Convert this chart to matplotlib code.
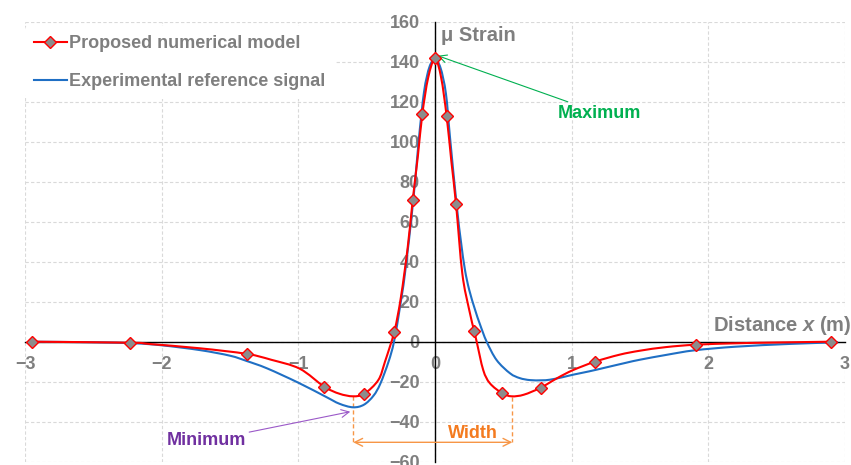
import matplotlib
matplotlib.use("Agg")
import matplotlib.pyplot as plt
from matplotlib.lines import Line2D
from matplotlib.path import Path
from matplotlib.patches import PathPatch

plt.rcParams['font.family'] = ['Liberation Sans', 'DejaVu Sans']
plt.rcParams['mathtext.fontset'] = 'custom'
plt.rcParams['mathtext.bfit'] = 'Liberation Sans:bold:italic'
plt.rcParams['mathtext.rm'] = 'Liberation Sans:bold'

# Proposed numerical model: smooth line
model_x = [-2.95, -2.23, -2.08, -1.72, -1.377, -1.2, -0.99, -0.81, -0.7, -0.6, -0.517,
           -0.415, -0.366, -0.298, -0.25, -0.2, -0.163, -0.125, -0.093, -0.05, 0.0,
           0.045, 0.085, 0.12, 0.154, 0.2, 0.25, 0.286, 0.305, 0.353, 0.402, 0.492,
           0.561, 0.65, 0.773, 0.9, 1.01, 1.17, 1.35, 1.5, 1.69, 1.907, 2.2, 2.5, 2.897]
model_y = [0, -0.5, -1.2, -3.3, -6.1, -9.0, -13.5, -22.5, -26.0, -27.3, -26.0,
           -19.2, -10.0, 5.0, 22.0, 47.0, 70.8, 93.0, 113.7, 132.0, 141.7,
           132.0, 112.8, 90.0, 68.7, 34.0, 16.0, 5.5, 0.0, -14.2, -20.8, -25.8,
           -27.3, -26.5, -23.0, -18.0, -14.2, -10.0, -6.5, -4.5, -2.7, -1.5, -0.8, -0.4, 0]

# Proposed numerical model: marked points
marker_x = [-2.95, -2.23, -1.377, -0.81, -0.517, -0.298, -0.163, -0.093, 0.0,
            0.085, 0.154, 0.286, 0.492, 0.773, 1.17, 1.907, 2.897]
marker_y = [0, -0.5, -6.1, -22.5, -26.0, 5.0, 70.8, 113.7, 141.7,
            112.8, 68.7, 5.5, -25.8, -23.0, -10.0, -1.5, 0]

# Experimental reference signal
exp_x = [-2.95, -2.5, -2.2, -2.0, -1.72, -1.5, -1.38, -1.23, -1.0, -0.8, -0.7, -0.6,
         -0.52, -0.45, -0.40, -0.34, -0.30, -0.256, -0.22, -0.16, -0.12, -0.08, -0.04,
         0.0, 0.04, 0.08, 0.11, 0.159, 0.19, 0.219, 0.25, 0.293, 0.33, 0.378, 0.451,
         0.549, 0.62, 0.695, 0.78, 0.841, 0.93, 1.01, 1.13, 1.256, 1.4, 1.5, 1.7, 1.9,
         2.2, 2.6, 2.95]
exp_y = [0, -0.3, -0.8, -1.8, -4.2, -7.0, -9.6, -13.3, -20.5, -27.5, -31.0, -32.8,
         -31.5, -27.0, -21.0, -10.0, 0.0, 17.5, 34.0, 70.0, 100.0, 125.0, 137.5,
         141.0, 137.0, 124.0, 102.0, 68.0, 50.0, 36.0, 26.0, 16.0, 8.5, 0.0, -9.2,
         -15.8, -18.2, -19.2, -19.3, -19.0, -17.8, -16.5, -14.8, -12.8, -10.5, -9.0,
         -6.5, -4.3, -2.5, -1.1, -0.3]

x_ticks = [-3, -2, -1, 0, 1, 2, 3]
y_ticks = [-60, -40, -20, 0, 20, 40, 60, 80, 100, 120, 140, 160]

GRAY = '#7f7f7f'
RED = '#ff0000'
BLUE = '#1f6fc4'


def smooth_path(xs, ys):
    """Catmull-Rom style Bezier path through the points (like a smoothed line)."""
    pts = list(zip(xs, ys))
    n = len(pts)
    verts = [pts[0]]
    codes = [Path.MOVETO]
    for i in range(n - 1):
        p0 = pts[i - 1] if i > 0 else pts[i]
        p1 = pts[i]
        p2 = pts[i + 1]
        p3 = pts[i + 2] if i + 2 < n else pts[i + 1]
        c1 = (p1[0] + (p2[0] - p0[0]) / 6.0, p1[1] + (p2[1] - p0[1]) / 6.0)
        c2 = (p2[0] - (p3[0] - p1[0]) / 6.0, p2[1] - (p3[1] - p1[1]) / 6.0)
        verts += [c1, c2, p2]
        codes += [Path.CURVE4] * 3
    return Path(verts, codes)


fig = plt.figure(figsize=(8.51, 4.65), dpi=100)
ax = fig.add_axes([25 / 851, 3.3 / 465, 820 / 851, 440 / 465])
ax.set_xlim(-3, 3)
ax.set_ylim(-60, 160)

ax.set_xticks(x_ticks)
ax.set_yticks(y_ticks)
ax.grid(True, color='#d9d9d9', linestyle=(0, (3, 2)), linewidth=0.8)
ax.set_axisbelow(True)
for s in ['top', 'right']:
    ax.spines[s].set_visible(False)
ax.spines['left'].set_position(('data', 0))
ax.spines['bottom'].set_position(('data', 0))
ax.spines['left'].set_color('black')
ax.spines['bottom'].set_color('black')
ax.spines['left'].set_linewidth(1.0)
ax.spines['bottom'].set_linewidth(1.0)
ax.spines['left'].set_zorder(2.5)
ax.spines['bottom'].set_zorder(2.5)
ax.tick_params(axis='both', length=0, labelsize=13, labelcolor=GRAY)
ax.tick_params(axis='x', pad=10)
ax.tick_params(axis='y', pad=11)
for lab in ax.get_xticklabels() + ax.get_yticklabels():
    lab.set_fontweight('bold')

ax.add_patch(PathPatch(smooth_path(exp_x, exp_y), facecolor='none', edgecolor=BLUE,
                       linewidth=1.5, zorder=3))
ax.add_patch(PathPatch(smooth_path(model_x, model_y), facecolor='none', edgecolor=RED,
                       linewidth=1.5, zorder=4))
ax.plot(marker_x, marker_y, linestyle='none', marker='D', markersize=6.5,
        markerfacecolor='#8c8c8c', markeredgecolor=RED, markeredgewidth=1.0, zorder=5)

# Axis titles
ax.text(0.045, 153, 'μ Strain', color=GRAY, fontsize=14.5, fontweight='bold',
        ha='left', va='center')
ax.text(3.045, 8.3, r'Distance $\mathbfit{x}$ (m)', color=GRAY, fontsize=14.5,
        fontweight='bold', ha='right', va='center')

# Annotations
ax.annotate('Maximum', xy=(0.02, 143), xytext=(0.9, 114.3), color='#00b050',
            fontsize=13, fontweight='bold', ha='left', va='center',
            arrowprops=dict(arrowstyle='->', color='#00b050', lw=0.8,
                            shrinkA=0, shrinkB=0, mutation_scale=14))
ax.annotate('Minimum', xy=(-0.62, -35), xytext=(-1.38, -49.5), color='#7030a0',
            fontsize=13, fontweight='bold', ha='right', va='center',
            arrowprops=dict(arrowstyle='->', color='#9b59c8', lw=0.8,
                            shrinkA=0, shrinkB=0, mutation_scale=14))
ORANGE = '#f79646'
ax.plot([-0.598, -0.598], [-27.3, -50.3], color=ORANGE, linestyle=(0, (3, 2)), lw=1.0)
ax.plot([0.566, 0.566], [-27.5, -50.3], color=ORANGE, linestyle=(0, (3, 2)), lw=1.0)
ax.annotate('', xy=(-0.598, -50.3), xytext=(0.566, -50.3),
            arrowprops=dict(arrowstyle='<->', color=ORANGE, lw=1.0,
                            shrinkA=0, shrinkB=0, mutation_scale=14))
ax.text(0.28, -45.8, 'Width', color='#f47b20', fontsize=13, fontweight='bold',
        ha='center', va='center')

# Legend
h1 = Line2D([0], [0], color=RED, lw=1.5, marker='D', markersize=6.5,
            markerfacecolor='#8c8c8c', markeredgecolor=RED)
h2 = Line2D([0], [0], color=BLUE, lw=1.5)
leg = ax.legend([h1, h2], ['Proposed numerical model', 'Experimental reference signal'],
                loc='upper left', bbox_to_anchor=(0.0, 0.99), frameon=True,
                facecolor='white', edgecolor='none', framealpha=1.0,
                prop={'weight': 'bold', 'size': 13}, handlelength=1.8,
                handletextpad=0.15, labelspacing=1.15, borderpad=0.5, borderaxespad=0.0)
leg.set_zorder(6)
for t in leg.get_texts():
    t.set_color(GRAY)

fig.savefig('out.png', dpi=100)
